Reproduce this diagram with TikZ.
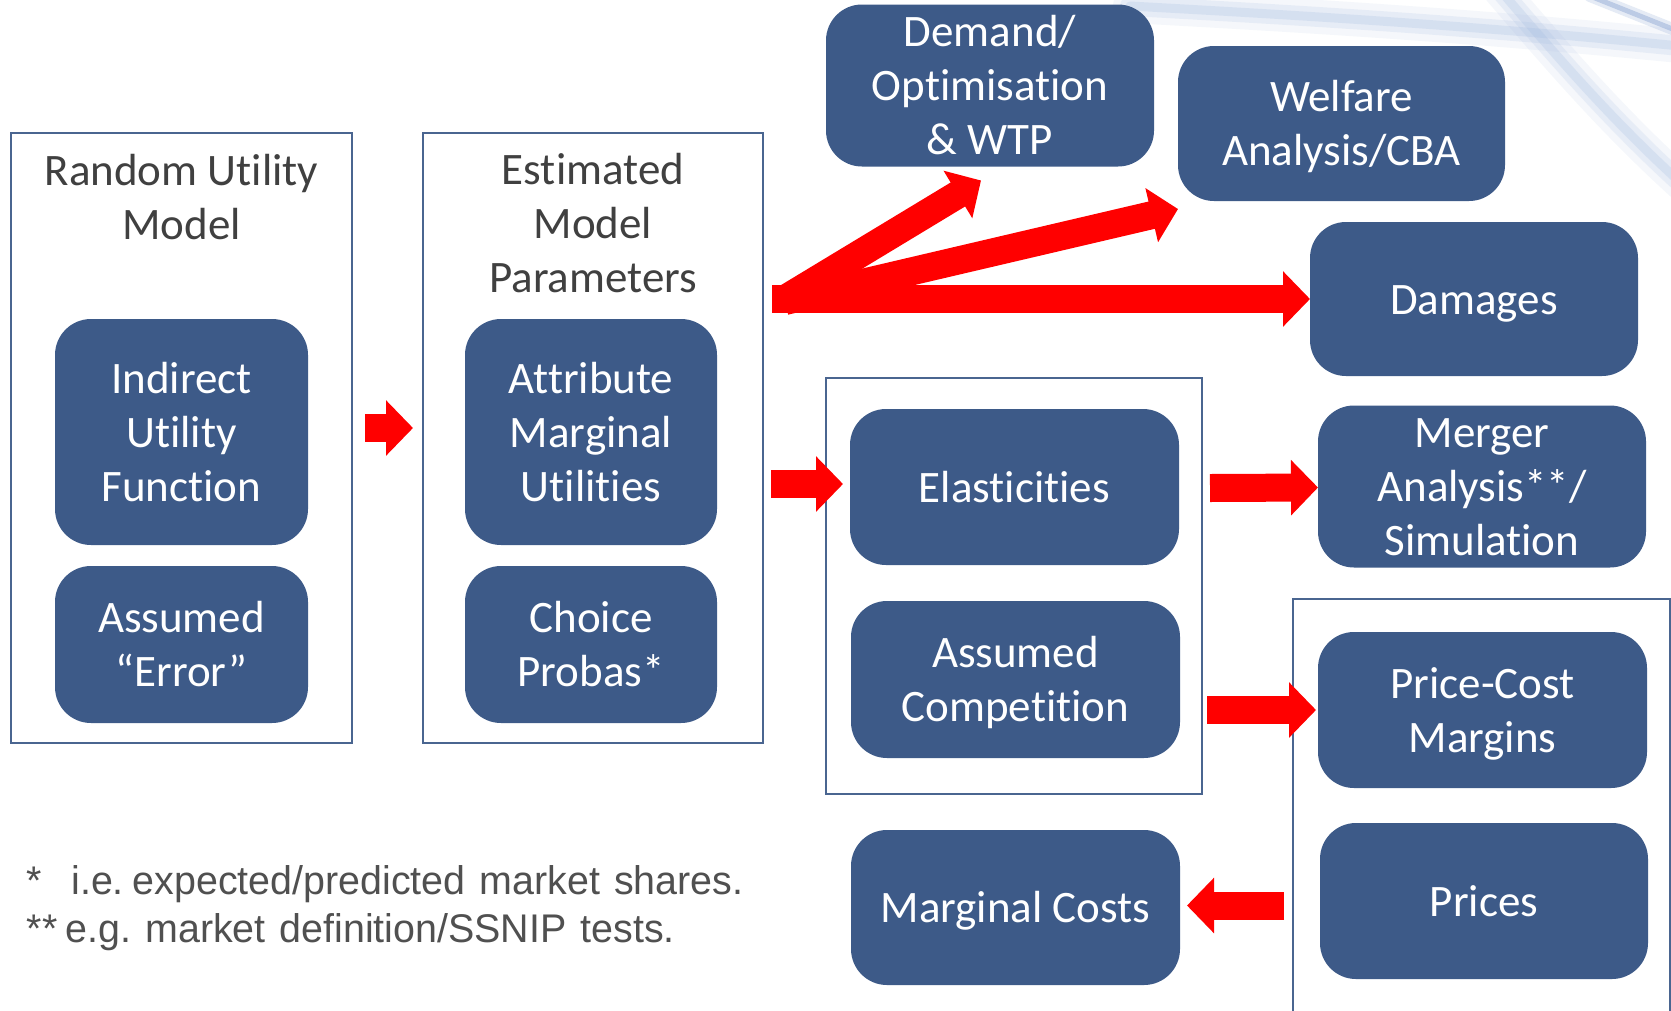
\documentclass[tikz,border=0pt]{standalone}
\usepackage{fontspec}
\setmainfont[Ligatures=NoCommon]{Carlito}
\newfontfamily\notefont[FakeStretch=0.985]{Liberation Sans}
\usetikzlibrary{arrows.meta,calc}
\definecolor{boxblue}{HTML}{3D5A88}
\definecolor{framec}{HTML}{4A6590}
\definecolor{titlegray}{HTML}{404040}
\definecolor{notegray}{HTML}{505050}
\definecolor{swoosh}{HTML}{9DB6DE}
\definecolor{swooshdark}{HTML}{7F9CCF}
% line strut: fixes ascent/descent of a text line inside the boxes
\newcommand\bx{\rule[-12pt]{0pt}{54pt}}
% footnote font set-up
\newcommand\notesetup{\notefont\fontsize{40}{48}\selectfont\frenchspacing\spaceskip=14pt\relax}

\begin{document}
\begin{tikzpicture}[x=1pt,y=-1pt,
  every node/.style={inner sep=0pt, outer sep=0pt},
  bigtext/.style={font=\fontsize{45}{54}\selectfont, align=center},
  bluebox/.style={bigtext, fill=boxblue, text=white, rounded corners=36pt},
  frame/.style={draw=framec, line width=2pt},
  title/.style={bigtext, text=titlegray},
  note/.style={text=notegray, anchor=base west},
  fat/.style={draw=red, line width=28pt, -{Triangle[length=27pt,width=54pt]}}
]
\useasboundingbox[fill=white] (0,0) rectangle (1671,1010);

% faint template swooshes, top right
\begin{scope}[line cap=round]
  \foreach \w/\o in {34/0.10, 20/0.16, 9/0.22} {
    \draw[swoosh, line width=\w pt, opacity=\o]
      (1130,6) .. controls (1350,18) and (1500,28) .. (1700,48);
    \draw[swoosh, line width=\w pt, opacity=\o]
      (1500,-10) .. controls (1560,60) and (1620,130) .. (1700,200);
  }
  \foreach \w/\o in {12/0.2, 5/0.4} {
    \draw[swooshdark, line width=\w pt, opacity=\o] (1590,-4) -- (1700,40);
  }
\end{scope}

% grouping frames
\node[frame, minimum width=341pt, minimum height=610pt] (rumf)  at (181.5,438) {};
\node[frame, minimum width=340pt, minimum height=610pt] (empf)  at (593,438) {};
\node[frame, minimum width=376pt, minimum height=416pt] (elasf) at (1014,586) {};
\node[frame, minimum width=377pt, minimum height=441pt] (pcmf)  at (1481.5,819.5) {};

% frame titles
\node[title] (rumt) at (181.5,197) {\bx Random Utility\\\bx Model};
\node[title] (empt) at (593,223) {\bx Estimated\\Model\\\bx Parameters};

% boxes
\node[bluebox, minimum width=253pt, minimum height=226pt] (iuf) at (181.5,432) {\bx Indirect\\Utility\\\bx Function};
\node[bluebox, minimum width=253pt, minimum height=157pt] (err) at (181.5,644.5) {\bx Assumed\\\bx “Error”};
\node[bluebox, minimum width=252pt, minimum height=226pt] (amu) at (591,432) {\bx Attribute\\Marginal\\\bx Utilities};
\node[bluebox, minimum width=252pt, minimum height=157pt] (cp)  at (591,644.5) {\bx Choice\\\bx Probas*};

\node[bluebox, minimum width=328pt, minimum height=155pt] (demand)  at (990,85.5) {\bx Demand/\\Optimisation\\\bx \& WTP};
\node[bluebox, minimum width=327pt, minimum height=155pt] (welfare) at (1341.5,123.5) {\bx Welfare\\\bx Analysis/CBA};
\node[bluebox, minimum width=328pt, minimum height=154pt] (damages) at (1474,299) {\bx Damages};

\node[bluebox, minimum width=329pt, minimum height=156pt] (elas) at (1014.5,487) {\bx Elasticities};
\node[bluebox, minimum width=329pt, minimum height=157pt] (comp) at (1015.5,679.5) {\bx Assumed\\\bx Competition};
\node[bluebox, minimum width=328pt, minimum height=157pt] (merger) at (1482,486.5) {\bx Merger\\Analysis**/\\\bx Simulation};

\node[bluebox, minimum width=329pt, minimum height=156pt] (pcm)    at (1482.5,710) {\bx Price-Cost\\\bx Margins};
\node[bluebox, minimum width=328pt, minimum height=156pt] (prices) at (1484,901) {\bx Prices};
\node[bluebox, minimum width=329pt, minimum height=155pt] (mc)     at (1015.5,907.5) {\bx Marginal Costs};

% flow arrows
\draw[fat] ($(rumf.east)+(13,-10)$) -- ($(empf.west)+(-10,-10)$);
\draw[fat] ($(empf.east |- elas.west)+(8,-3)$) -- ($(elas.west)+(-7,-3)$);
\draw[fat] ($(elasf.east |- elas.east)+(8,1)$) -- ($(merger.west)+(0,1)$);
\draw[fat] ($(elasf.east |- pcm.west)+(5,0)$) -- ($(pcm.west)+(-2,0)$);
\draw[fat] ($(pcmf.west |- mc.east)+(-9,-2)$) -- ($(mc.east)+(7,-2)$);

% fan of arrows out of the estimated parameters
\coordinate (fan) at ($(empf.east |- damages.west)+(9,0)$);
\draw[fat] (fan) -- (damages.west);
\draw[fat] ($(fan)+(13,2)$) -- ($(welfare.south west)+(0,8)$);
\draw[fat] ($(fan)+(13,0)$) -- ($(demand.south)+(-9,14)$);

% footnotes
\node[note] (fn1) at (27,894) {\notesetup *\hspace{29pt}i.e.\hspace{9pt}expected/predicted market shares.};
\node[note] (fn2) at (27,942) {\notesetup **\hspace{8pt}e.g. market definition/SSNIP tests.};
\end{tikzpicture}
\end{document}
